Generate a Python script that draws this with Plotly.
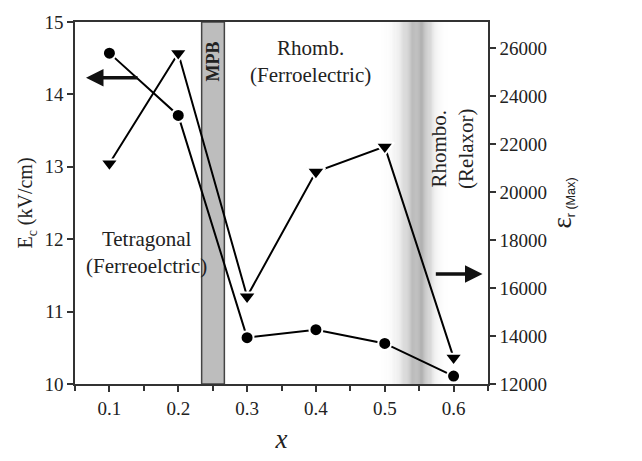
import plotly.graph_objects as go
import numpy as np

x_vals = [0.1, 0.2, 0.3, 0.4, 0.5, 0.6]
ec_vals = [14.57, 13.71, 10.64, 10.75, 10.56, 10.11]
eps_vals = [21200, 25800, 15650, 20850, 21900, 13100]

x_ticks = [0.1, 0.2, 0.3, 0.4, 0.5, 0.6]
ec_ticks = [10, 11, 12, 13, 14, 15]
eps_ticks = [12000, 14000, 16000, 18000, 20000, 22000, 24000, 26000]

SERIF = "Liberation Serif"
fig = go.Figure()

fig.add_trace(go.Scatter(
    x=x_vals, y=ec_vals, mode="lines+markers",
    line=dict(color="black", width=2),
    marker=dict(symbol="circle", size=13, color="black", line=dict(color="white", width=2)),
    showlegend=False, cliponaxis=False))
fig.add_trace(go.Scatter(
    x=x_vals, y=eps_vals, mode="lines+markers", yaxis="y2",
    line=dict(color="black", width=2),
    marker=dict(symbol="triangle-down", size=16, color="black", line=dict(color="white", width=2)),
    showlegend=False, cliponaxis=False))

shapes = []
# MPB band
shapes.append(dict(type="rect", xref="x", yref="paper", x0=0.234, x1=0.267, y0=0, y1=1,
                   fillcolor="#bdbdbd", line=dict(color="#444", width=1.5), layer="below"))
# gradient relaxor boundary
n = 80
lo, hi, cen = 0.495, 0.600, 0.551
for i in range(n):
    a = lo + (hi - lo) * i / n
    b = lo + (hi - lo) * (i + 1) / n
    m = (a + b) / 2
    w = 0.026 if m < cen else 0.018
    t = np.exp(-((m - cen) / w) ** 2)
    g = int(round(255 - t * (255 - 168)))
    shapes.append(dict(type="rect", xref="x", yref="paper", x0=a, x1=b, y0=0, y1=1,
                       fillcolor=f"rgb({g},{g},{g})", line=dict(width=0), layer="below"))

annotations = [
    dict(x=0.25, y=14.45, xref="x", yref="y", text="<b>MPB</b>", textangle=-90, showarrow=False,
         font=dict(family=SERIF, size=18, color="#222")),
    dict(x=0.392, y=14.45, xref="x", yref="y", text="Rhomb.<br>(Ferroelectric)", showarrow=False,
         font=dict(family=SERIF, size=21, color="#222")),
    dict(x=0.154, y=11.82, xref="x", yref="y", text="Tetragonal<br>(Ferreoelctric)", showarrow=False,
         font=dict(family=SERIF, size=21, color="#222")),
    dict(x=0.598, y=13.25, xref="x", yref="y", text="Rhombo.<br>(Relaxor)", textangle=-90, showarrow=False,
         font=dict(family=SERIF, size=21, color="#222")),
    dict(x=0.066, y=14.23, xref="x", yref="y", ax=0.143, ay=14.23, axref="x", ayref="y",
         text="", showarrow=True, arrowhead=2, arrowsize=1, arrowwidth=3.5, arrowcolor="#111"),
    dict(x=0.642, y=11.52, xref="x", yref="y", ax=0.572, ay=11.52, axref="x", ayref="y",
         text="", showarrow=True, arrowhead=2, arrowsize=1, arrowwidth=3.5, arrowcolor="#111"),
]

fig.update_layout(
    width=642, height=461,
    margin=dict(l=75, r=154, t=20, b=68),
    paper_bgcolor="white", plot_bgcolor="white",
    shapes=shapes, annotations=annotations,
    xaxis=dict(range=[0.05, 0.65], tickvals=x_ticks, ticktext=[str(v) for v in x_ticks],
               showgrid=False, zeroline=False, showline=True, linecolor="#333", linewidth=1.5,
               mirror=True, ticks="outside", ticklen=6, tickcolor="#333", tickwidth=1.5,
               minor=dict(dtick=0.05, tick0=0.05, ticks="outside", ticklen=5, tickcolor="#333", tickwidth=1.5),
               tickfont=dict(family=SERIF, size=19, color="#222"),
               title=dict(text="<i>x</i>", font=dict(family=SERIF, size=27, color="#222"), standoff=12)),
    yaxis=dict(range=[10, 15], tickvals=ec_ticks, showgrid=False, zeroline=False,
               showline=True, linecolor="#333", linewidth=1.5, ticks="outside", ticklen=6,
               tickcolor="#333", tickwidth=1.5,
               tickfont=dict(family=SERIF, size=19, color="#222"),
               title=dict(text="E<sub>c</sub> (kV/cm)", font=dict(family=SERIF, size=20, color="#222"), standoff=6)),
    yaxis2=dict(range=[12000, 27100], tickvals=eps_ticks, ticktext=[str(v) for v in eps_ticks],
                overlaying="y", side="right",
                showgrid=False, zeroline=False, showline=True, linecolor="#333", linewidth=1.5,
                ticks="outside", ticklen=6, tickcolor="#333", tickwidth=1.5,
                tickfont=dict(family=SERIF, size=19, color="#222"),
                title=dict(text="<span style='font-family:Liberation Serif;font-size:27px'>ε</span><sub>r (Max)</sub>",
                           font=dict(family="Liberation Sans", size=18, color="#222"), standoff=10)),
)

fig.write_html("out.html")
